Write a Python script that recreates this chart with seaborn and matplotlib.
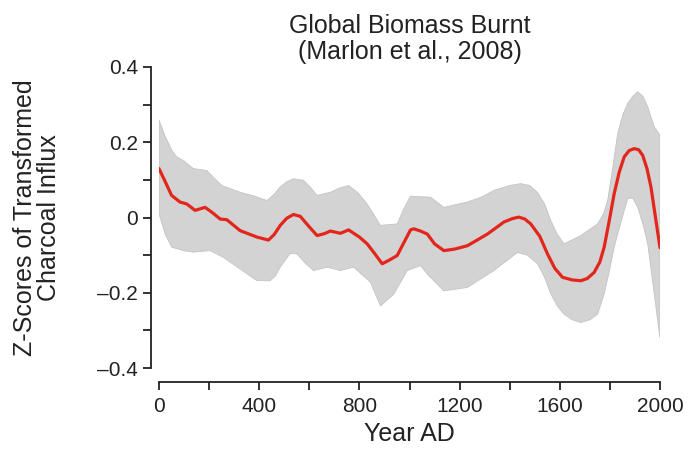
import numpy as np
import pandas as pd
import matplotlib
matplotlib.use("Agg")
import matplotlib.pyplot as plt
import seaborn as sns

# mean curve
mean_year = [0, 25, 50, 84, 111, 144, 184, 215, 244, 271, 324, 391, 437, 460, 484, 510, 537,
             564, 600, 631, 660, 684, 724, 757, 800, 831, 860, 891, 920, 951, 975, 1004, 1017,
             1044, 1071, 1100, 1137, 1180, 1231, 1270, 1311, 1377, 1410, 1437, 1460, 1484,
             1520, 1551, 1580, 1611, 1650, 1684, 1710, 1737, 1760, 1777, 1797, 1817, 1837,
             1857, 1877, 1897, 1915, 1931, 1948, 1964, 1982, 2000]
mean_z = [0.130, 0.095, 0.059, 0.041, 0.036, 0.019, 0.027, 0.012, -0.004, -0.006, -0.035,
          -0.052, -0.060, -0.045, -0.021, -0.002, 0.008, 0.003, -0.025, -0.048, -0.043,
          -0.036, -0.042, -0.033, -0.052, -0.070, -0.095, -0.123, -0.113, -0.101, -0.070,
          -0.033, -0.030, -0.036, -0.044, -0.070, -0.088, -0.084, -0.075, -0.060, -0.044,
          -0.012, -0.003, 0.001, -0.004, -0.017, -0.050, -0.097, -0.135, -0.159, -0.166,
          -0.168, -0.162, -0.146, -0.118, -0.079, -0.010, 0.063, 0.120, 0.161, 0.178, 0.183,
          0.180, 0.165, 0.130, 0.081, 0.000, -0.080]

# confidence band
upper_year = [0, 25, 51, 71, 100, 137, 191, 220, 251, 324, 380, 431, 460, 484, 510, 537, 577,
              605, 631, 684, 720, 757, 795, 831, 860, 884, 951, 975, 1004, 1044, 1084, 1137,
              1231, 1290, 1337, 1400, 1444, 1480, 1511, 1540, 1564, 1590, 1617, 1684, 1751,
              1775, 1791, 1811, 1831, 1851, 1871, 1891, 1911, 1931, 1951, 1977, 2000]
upper_z = [0.259, 0.215, 0.179, 0.161, 0.150, 0.130, 0.125, 0.105, 0.085, 0.067, 0.057,
           0.045, 0.062, 0.081, 0.095, 0.103, 0.099, 0.080, 0.059, 0.067, 0.078, 0.085,
           0.065, 0.036, 0.005, -0.021, -0.017, 0.020, 0.057, 0.055, 0.054, 0.027, 0.041,
           0.055, 0.072, 0.085, 0.090, 0.085, 0.067, 0.035, -0.008, -0.045, -0.070, -0.048,
           -0.017, 0.010, 0.045, 0.130, 0.223, 0.272, 0.303, 0.322, 0.334, 0.323, 0.294,
           0.241, 0.219]
lower_year = [0, 25, 51, 97, 137, 204, 257, 324, 391, 444, 465, 484, 524, 551, 585, 617, 671,
              724, 777, 844, 865, 884, 937, 991, 1044, 1071, 1137, 1231, 1337, 1431, 1470,
              1511, 1540, 1564, 1590, 1617, 1650, 1684, 1720, 1751, 1777, 1797, 1817, 1845,
              1871, 1891, 1911, 1931, 1951, 1977, 2000]
lower_z = [0.010, -0.045, -0.079, -0.088, -0.092, -0.088, -0.106, -0.137, -0.168, -0.168,
           -0.155, -0.132, -0.095, -0.097, -0.122, -0.141, -0.132, -0.141, -0.132, -0.172,
           -0.205, -0.235, -0.204, -0.141, -0.128, -0.150, -0.195, -0.186, -0.141, -0.093,
           -0.100, -0.123, -0.160, -0.203, -0.235, -0.257, -0.272, -0.279, -0.272, -0.257,
           -0.203, -0.145, -0.079, -0.010, 0.050, 0.052, 0.027, -0.015, -0.070, -0.203,
           -0.320]

x_major = [0, 400, 800, 1200, 1600, 2000]
x_minor = [200, 600, 1000, 1400, 1800]
y_major = [-0.4, -0.2, 0, 0.2, 0.4]
y_labels = ["\u20130.4", "\u20130.2", "0", "0.2", "0.4"]
y_minor = [-0.3, -0.1, 0.1, 0.3]

df = pd.DataFrame({"Year AD": mean_year, "z": mean_z})

sns.set_theme(style="ticks")
plt.rcParams["font.family"] = ["Liberation Sans", "DejaVu Sans"]
text_col = "#222222"

fig = plt.figure(figsize=(6.89, 4.57), dpi=100)
ax = fig.add_axes([159 / 689, 1 - 368 / 457, 501 / 689, 301 / 457])

band_x = np.concatenate([upper_year, lower_year[::-1]])
band_y = np.concatenate([upper_z, lower_z[::-1]])
ax.fill(band_x, band_y, color="#d3d3d3", edgecolor="#c4c4c4", linewidth=0.6, zorder=1)

sns.lineplot(data=df, x="Year AD", y="z", ax=ax, color="#e3261b", linewidth=2.3, zorder=3)

ax.set_xlim(0, 2000)
ax.set_ylim(-0.4, 0.4)
ax.set_xticks(x_major)
ax.set_xticks(x_minor, minor=True)
ax.set_yticks(y_major, y_labels)
ax.set_yticks(y_minor, minor=True)

sns.despine(ax=ax, offset={"left": 6, "bottom": 10})
for s in ["left", "bottom"]:
    ax.spines[s].set_linewidth(1.3)
    ax.spines[s].set_color(text_col)
ax.tick_params(which="both", direction="out", length=6, width=1.3, color=text_col,
               labelsize=15, labelcolor=text_col)
ax.tick_params(axis="x", which="both", pad=5)
ax.tick_params(axis="y", which="both", pad=3)

ax.set_xlabel("Year AD", fontsize=18, color=text_col, labelpad=4)
ax.set_ylabel("Z-Scores of Transformed\nCharcoal Influx", fontsize=18, color=text_col,
              linespacing=1.0)
ax.yaxis.set_label_coords(-0.195, 0.5)
ax.set_title("Global Biomass Burnt\n(Marlon et al., 2008)", fontsize=18, color=text_col,
             linespacing=1.1, pad=6)

fig.savefig("out.png", dpi=100)
